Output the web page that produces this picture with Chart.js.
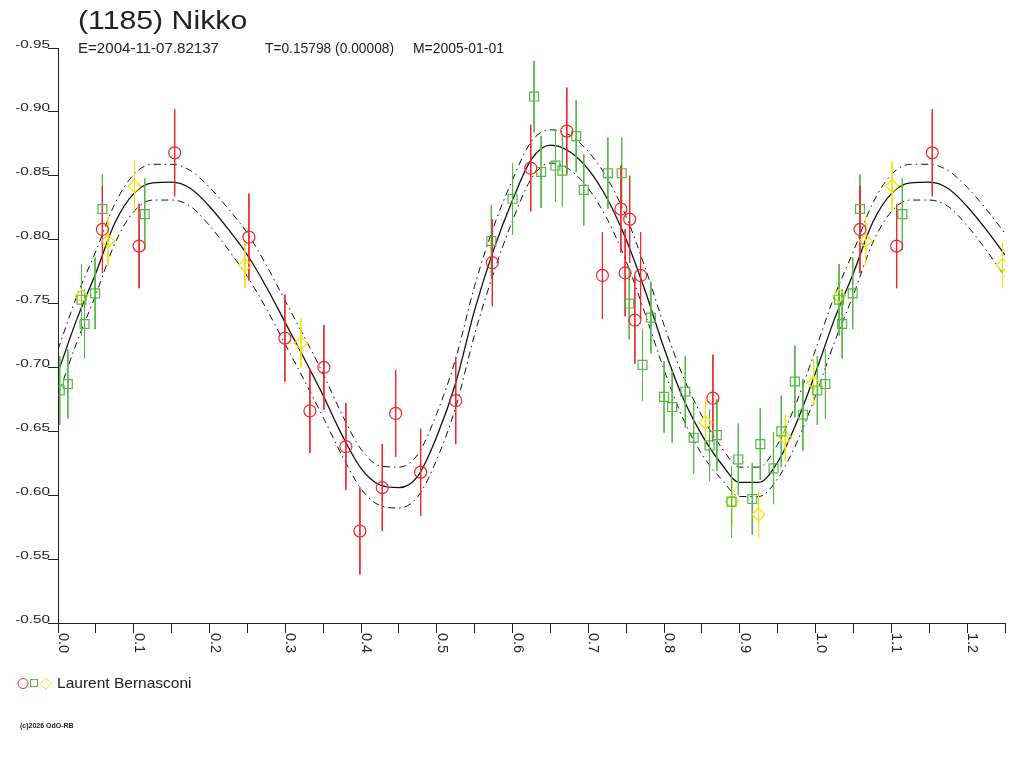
<!DOCTYPE html>
<html>
<head>
<meta charset="utf-8">
<title>(1185) Nikko</title>
<script src="https://cdn.jsdelivr.net/npm/chart.js@4.4.1/dist/chart.umd.min.js"></script>
<style>
  html, body { margin: 0; padding: 0; background: #fff; }
  canvas { display: block; }
</style>
</head>
<body>
<canvas id="lc" width="1024" height="768"></canvas>
<script>
// LIGHTCURVE DATA (phase, reduced magnitude, error bar)
const redPhase = [0.0586, 0.107, 0.154, 0.252, 0.2995, 0.3325, 0.351, 0.380, 0.3985, 0.428, 0.4457, 0.4787,
    0.525, 0.5733, 0.624, 0.6716, 0.7186, 0.743, 0.7486, 0.7546, 0.7614, 0.769, 0.8644];
const redMag = [-0.808, -0.795, -0.868, -0.802, -0.723, -0.666, -0.700, -0.638, -0.572, -0.606, -0.664, -0.618,
    -0.674, -0.782, -0.856, -0.885, -0.772, -0.824, -0.774, -0.816, -0.737, -0.772, -0.676];
const redErr = [0.034, 0.033, 0.034, 0.034, 0.034, 0.033, 0.033, 0.034, 0.034, 0.034, 0.034, 0.034,
    0.034, 0.034, 0.034, 0.034, 0.034, 0.034, 0.034, 0.034, 0.034, 0.034, 0.034];

const greenPhase = [0.0023, 0.013, 0.031, 0.035, 0.049, 0.0586, 0.1145, 0.572, 0.600, 0.6284, 0.6377, 0.6566,
    0.6658, 0.684, 0.694, 0.7258, 0.744, 0.754, 0.7715, 0.7826, 0.800, 0.8107, 0.828, 0.839, 0.860, 0.8697,
    0.889, 0.898, 0.9164, 0.927, 0.9445, 0.9547, 0.9727, 0.9833];
const greenMag = [-0.682, -0.687, -0.753, -0.734, -0.758, -0.824, -0.820, -0.799, -0.832, -0.912, -0.853, -0.858,
    -0.854, -0.881, -0.839, -0.852, -0.852, -0.750, -0.702, -0.739, -0.677, -0.669, -0.681, -0.645, -0.639, -0.647,
    -0.595, -0.628, -0.597, -0.640, -0.621, -0.650, -0.689, -0.663];
const greenErr = [0.027, 0.027, 0.028, 0.027, 0.028, 0.027, 0.028, 0.028, 0.028, 0.028, 0.028, 0.028,
    0.028, 0.028, 0.028, 0.028, 0.028, 0.028, 0.028, 0.028, 0.028, 0.028, 0.028, 0.028, 0.028, 0.028,
    0.028, 0.028, 0.028, 0.028, 0.028, 0.028, 0.028, 0.028];

const yellowPhase = [0.031, 0.066, 0.101, 0.2467, 0.3206, 0.8547, 0.8895, 0.9247, 0.960, 0.9974];
const yellowMag = [-0.756, -0.799, -0.842, -0.780, -0.719, -0.657, -0.595, -0.585, -0.645, -0.688];
const yellowErr = [0.018, 0.019, 0.019, 0.018, 0.019, 0.018, 0.018, 0.018, 0.018, 0.018];

// FOURIER FIT + envelopes
const fitPhase = [0.000, 0.025, 0.050, 0.075, 0.100, 0.125, 0.150, 0.175, 0.200, 0.225,
    0.250, 0.275, 0.300, 0.325, 0.350, 0.375, 0.400, 0.425, 0.450, 0.475,
    0.500, 0.525, 0.550, 0.575, 0.600, 0.625, 0.650, 0.675, 0.700, 0.725,
    0.750, 0.775, 0.800, 0.825, 0.850, 0.875, 0.900, 0.925, 0.950, 0.975];
const fitMag = [-0.696, -0.738, -0.774, -0.813, -0.836, -0.8445, -0.845, -0.840, -0.826, -0.808,
    -0.788, -0.763, -0.735, -0.707, -0.678, -0.647, -0.621, -0.608, -0.606, -0.615,
    -0.646, -0.688, -0.745, -0.792, -0.831, -0.863, -0.874, -0.869, -0.855, -0.832,
    -0.800, -0.760, -0.715, -0.676, -0.647, -0.625, -0.610, -0.610, -0.626, -0.657];
const fitUpper = [-0.714, -0.756, -0.791, -0.828, -0.851, -0.859, -0.859, -0.854, -0.841, -0.824,
    -0.805, -0.780, -0.752, -0.724, -0.695, -0.663, -0.636, -0.623, -0.622, -0.632,
    -0.664, -0.707, -0.764, -0.810, -0.847, -0.877, -0.886, -0.882, -0.869, -0.848,
    -0.818, -0.778, -0.733, -0.693, -0.662, -0.638, -0.622, -0.622, -0.640, -0.673];
const fitLower = [-0.678, -0.720, -0.757, -0.797, -0.822, -0.831, -0.831, -0.826, -0.811, -0.792,
    -0.771, -0.746, -0.718, -0.690, -0.661, -0.631, -0.605, -0.592, -0.590, -0.599,
    -0.628, -0.669, -0.726, -0.774, -0.815, -0.848, -0.860, -0.855, -0.840, -0.816,
    -0.783, -0.742, -0.698, -0.660, -0.632, -0.613, -0.599, -0.599, -0.613, -0.641];

// AXES
const xTickLabels = [0.0, 0.1, 0.2, 0.3, 0.4, 0.5, 0.6, 0.7, 0.8, 0.9, 1.0, 1.1, 1.2];
const yTickLabels = [-0.95, -0.90, -0.85, -0.80, -0.75, -0.70, -0.65, -0.60, -0.55, -0.50];
const X_MAX = 1.25;

const RED = "#f0282d";
const GREEN = "#52b845";
const YELLOW = "#f2e400";
const INK = "#222";

// phase 0..1 plus the repeated part past 1.0
function unfold(phases, values) {
    const pts = phases.map((p, i) => ({ x: p, y: values[i] }));
    phases.forEach((p, i) => {
        if (p + 1 <= X_MAX + 1e-9) pts.push({ x: p + 1, y: values[i] });
    });
    return pts;
}

function errorBars(phases, mags, errs) {
    const pts = [];
    phases.forEach((p, i) => {
        [p, p + 1].forEach(x => {
            if (x > X_MAX + 1e-9) return;
            pts.push({ x, y: mags[i] - errs[i] }, { x, y: mags[i] + errs[i] }, { x, y: null });
        });
    });
    return pts;
}

function markers(phases, mags, color, style, radius) {
    return {
        type: "scatter",
        data: unfold(phases, mags),
        pointStyle: style,
        pointRadius: radius,
        borderColor: color,
        backgroundColor: "rgba(0,0,0,0)",
        borderWidth: 1.2
    };
}

function bars(phases, mags, errs, color) {
    return {
        type: "line",
        data: errorBars(phases, mags, errs),
        borderColor: color,
        borderWidth: 1,
        pointRadius: 0,
        spanGaps: false,
        fill: false
    };
}

function curve(values, dash, width) {
    return {
        type: "line",
        data: unfold(fitPhase, values),
        borderColor: "#111",
        borderWidth: width,
        borderDash: dash,
        pointRadius: 0,
        cubicInterpolationMode: "monotone",
        fill: false
    };
}

// stretched text, the original uses wide glyphs
function wideText(ctx, str, x, y, size, sx, align) {
    ctx.save();
    ctx.font = size + 'px "Liberation Sans", Arial, sans-serif';
    const w = ctx.measureText(str).width * sx;
    ctx.translate(align === "right" ? x - w : x, y);
    ctx.scale(sx, 1);
    ctx.textAlign = "left";
    ctx.textBaseline = "alphabetic";
    ctx.fillText(str, 0, 0);
    ctx.restore();
}

const textPlugin = {
    id: "lcText",
    beforeDraw(chart) {
        const ctx = chart.ctx;
        ctx.save();
        ctx.fillStyle = "#fff";
        ctx.fillRect(0, 0, chart.width, chart.height);
        ctx.restore();
    },
    afterDraw(chart) {
        const ctx = chart.ctx;
        const xs = chart.scales.x, ys = chart.scales.y;
        ctx.save();
        ctx.fillStyle = INK;

        // TITLE
        wideText(ctx, "(1185) Nikko", 78, 29, 25, 1.21, "left");
        wideText(ctx, "E=2004-11-07.82137", 78, 53, 14.5, 1.04, "left");
        wideText(ctx, "T=0.15798 (0.00008)", 265, 53, 14.5, 0.95, "left");
        wideText(ctx, "M=2005-01-01", 413, 53, 14.5, 0.96, "left");

        // Y LABELS
        yTickLabels.forEach(v => {
            const py = ys.getPixelForValue(v);
            wideText(ctx, v.toFixed(2), 50, py - 0.5, 11.5, 1.33, "right");
        });

        // X LABELS (rotated, reading downwards)
        ctx.font = '14.5px "Liberation Sans", Arial, sans-serif';
        ctx.textAlign = "left";
        ctx.textBaseline = "alphabetic";
        xTickLabels.forEach(v => {
            const px = xs.getPixelForValue(v);
            ctx.save();
            ctx.translate(px + 1, 633);
            ctx.rotate(Math.PI / 2);
            ctx.fillText(v.toFixed(1), 0, 0);
            ctx.restore();
        });

        // LEGEND
        ctx.lineWidth = 1;
        ctx.strokeStyle = RED;
        ctx.beginPath();
        ctx.arc(23, 683.5, 5, 0, Math.PI * 2);
        ctx.stroke();
        ctx.strokeStyle = GREEN;
        ctx.strokeRect(30.5, 679.5, 7, 7);
        ctx.strokeStyle = YELLOW;
        ctx.beginPath();
        ctx.moveTo(46, 678);
        ctx.lineTo(51.5, 683.5);
        ctx.lineTo(46, 689);
        ctx.lineTo(40.5, 683.5);
        ctx.closePath();
        ctx.stroke();
        wideText(ctx, "Laurent Bernasconi", 57, 688, 14.5, 1.07, "left");

        // COPYRIGHT
        ctx.font = 'bold 7px "Liberation Sans", Arial, sans-serif';
        ctx.fillText("(c)2026 OdO-RB", 20, 728);
        ctx.restore();
    }
};

new Chart(document.getElementById("lc"), {
    type: "scatter",
    data: {
        datasets: [
            markers(redPhase, redMag, RED, "circle", 6),
            markers(greenPhase, greenMag, GREEN, "rect", 6.3),
            markers(yellowPhase, yellowMag, YELLOW, "rectRot", 6.5),
            bars(redPhase, redMag, redErr, RED),
            bars(greenPhase, greenMag, greenErr, GREEN),
            bars(yellowPhase, yellowMag, yellowErr, YELLOW),
            curve(fitMag, [], 1.3),
            curve(fitUpper, [7, 4, 1.5, 4], 1),
            curve(fitLower, [7, 4, 1.5, 4], 1)
        ]
    },
    options: {
        responsive: false,
        devicePixelRatio: 1,
        animation: false,
        events: [],
        layout: { padding: { top: 48, right: 19, left: 0, bottom: 0 } },
        plugins: {
            legend: { display: false },
            tooltip: { enabled: false },
            title: { display: false }
        },
        scales: {
            x: {
                type: "linear",
                min: 0,
                max: X_MAX,
                afterFit: s => { s.height = 145; },
                border: { color: INK, width: 1 },
                grid: { drawOnChartArea: false, drawTicks: true, tickLength: 10, color: INK },
                ticks: { stepSize: 0.05, display: false }
            },
            y: {
                type: "linear",
                reverse: true,
                min: -0.95,
                max: -0.50,
                afterFit: s => { s.width = 58; },
                border: { color: INK, width: 1 },
                grid: { drawOnChartArea: false, drawTicks: true, tickLength: 10, color: INK },
                ticks: { stepSize: 0.05, display: false }
            }
        }
    },
    plugins: [textPlugin]
});
</script>
</body>
</html>
